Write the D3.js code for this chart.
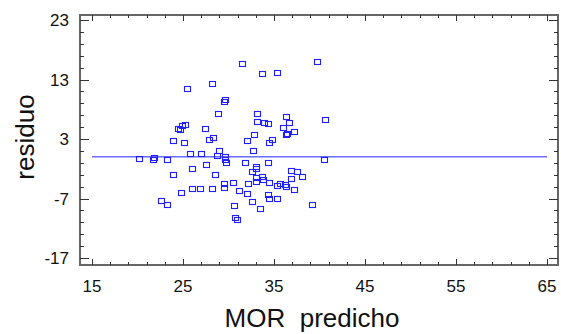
<!DOCTYPE html>
<html><head><meta charset="utf-8">
<script src="https://cdn.jsdelivr.net/npm/d3@7"></script>
<style>html,body{margin:0;padding:0;background:#fff;}svg{display:block;}text{white-space:pre;}</style>
</head><body>
<svg id="chart" width="561" height="334"></svg>
<script>
// Data: predicted MOR (x) and residual (y)
const morPredicho = [31.48,39.73,33.65,35.36,25.44,28.19,29.65,29.54,28.81,24.40,24.70,24.89,25.22,27.38,23.90,25.14,27.82,28.30,33.10,33.10,33.90,34.34,36.29,36.63,36.04,37.20,36.40,36.35,40.60,32.84,32.07,34.80,34.45,32.73,29.01,28.71,29.65,29.65,29.70,40.49,20.20,21.67,21.85,23.27,25.77,27.01,27.56,25.96,23.93,28.52,29.47,29.54,30.46,31.10,24.75,25.99,26.90,28.19,22.56,23.27,30.57,30.68,30.97,31.84,32.99,32.99,32.58,34.29,32.11,32.05,32.99,33.05,33.65,33.76,34.45,36.87,37.51,36.92,38.04,35.35,35.71,36.21,36.32,37.20,34.31,34.45,35.36,32.58,33.49,39.21];
const residuo = [15.66,15.86,13.92,14.09,11.45,12.19,9.50,9.22,7.25,4.68,4.51,5.13,5.40,4.76,2.61,2.28,2.75,3.12,7.15,5.94,5.74,5.57,6.65,5.69,4.85,4.21,3.92,3.59,6.24,3.62,2.61,2.75,2.28,1.03,0.98,0.19,0.03,-0.45,-1.03,-0.45,-0.36,-0.53,-0.14,-0.48,0.53,0.53,-1.37,-1.99,-3.10,-3.10,-4.51,-5.24,-4.34,-5.74,-6.08,-5.45,-5.45,-5.40,-7.47,-8.14,-8.18,-10.33,-10.53,-1.07,-1.66,-2.04,-2.50,-1.07,-4.61,-6.24,-3.61,-4.23,-3.44,-3.84,-4.34,-2.46,-2.60,-3.64,-3.47,-4.85,-4.51,-4.78,-5.02,-5.61,-6.46,-7.03,-7.13,-7.64,-8.80,-8.01];
const xTicks = [15,25,35,45,55,65];
const yTicks = [-17,-7,3,13,23];
const xMinor = d3.range(15,65.01,2);
const yMinor = d3.range(-17,23.01,2);
const refLine = 0;
const xTitle = "MOR  predicho";
const yTitle = "residuo";

const svg = d3.select("#chart");
const frame = {l:80, r:558, t:15, b:265};
const x = d3.scaleLinear().domain([15,65]).range([92,547]);
const y = d3.scaleLinear().domain([-17,23]).range([258,20]);

const blue = "#2020ff";
const axisCol = "#666";

// Frame
svg.append("rect").attr("x",frame.l).attr("y",frame.t)
  .attr("width",frame.r-frame.l).attr("height",frame.b-frame.t)
  .attr("fill","none").attr("stroke",axisCol).attr("stroke-width",2);

const g = svg.append("g").attr("stroke","#333").attr("stroke-width",1);
xMinor.forEach(v=>{
  const major = xTicks.includes(Math.round(v));
  const len = major?6:3;
  const px = Math.round(x(v))+0.5;
  g.append("line").attr("x1",px).attr("x2",px).attr("y1",frame.b).attr("y2",frame.b-len);
  g.append("line").attr("x1",px).attr("x2",px).attr("y1",frame.t).attr("y2",frame.t+len);
});
yMinor.forEach(v=>{
  const major = yTicks.includes(Math.round(v));
  const len = major?9:4;
  const py = Math.round(y(v))+0.5;
  g.append("line").attr("x1",frame.l).attr("x2",frame.l+len).attr("y1",py).attr("y2",py);
  g.append("line").attr("x1",frame.r).attr("x2",frame.r-len).attr("y1",py).attr("y2",py);
});

const font = "'Liberation Sans', Arial, sans-serif";
svg.selectAll(".xl").data(xTicks).enter().append("text")
  .attr("x",d=>x(d)).attr("y",292).attr("text-anchor","middle")
  .attr("font-family",font).attr("font-size",17).attr("fill","#111").text(d=>d);
svg.selectAll(".yl").data(yTicks).enter().append("text")
  .attr("x",69).attr("y",d=>y(d)+6).attr("text-anchor","end")
  .attr("font-family",font).attr("font-size",17).attr("fill","#111").text(d=>d);

svg.append("text").attr("x",312).attr("y",327).attr("text-anchor","middle")
  .attr("font-family",font).attr("font-size",26).attr("fill","#111").text(xTitle);
svg.append("text").attr("transform","translate(34,137) rotate(-90)").attr("text-anchor","middle")
  .attr("font-family",font).attr("font-size",26).attr("fill","#111").text(yTitle);

svg.append("line").attr("x1",x(15)).attr("x2",x(65)).attr("y1",y(refLine)).attr("y2",y(refLine))
  .attr("stroke",blue).attr("stroke-width",1);

const pts = morPredicho.map((v,i)=>({x:v,y:residuo[i]}));
svg.selectAll(".pt").data(pts).enter().append("rect")
  .attr("x",d=>Math.round(x(d.x))-3+0.5).attr("y",d=>Math.round(y(d.y))-2.5)
  .attr("width",6).attr("height",5)
  .attr("fill","none").attr("stroke",blue).attr("stroke-width",1.1);
</script>
</body></html>
